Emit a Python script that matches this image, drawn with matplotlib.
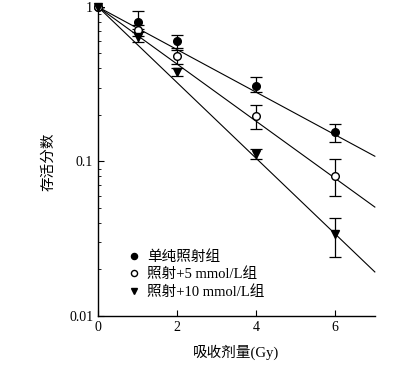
import matplotlib.pyplot as plt
import numpy as np

plt.rcParams['font.family'] = ['Liberation Serif', 'Noto Sans CJK SC']
plt.rcParams['axes.unicode_minus'] = False

dose = [0, 1, 2, 4, 6]

# survival fraction
sf_ctrl = [1.0, 0.80, 0.60, 0.31, 0.156]
sf_5 = [1.0, 0.71, 0.48, 0.198, 0.081]
sf_10 = [1.0, 0.64, 0.38, 0.111, 0.034]

# error bars (lower, upper)
lo_ctrl = [0, 0.08, 0.06, 0.03, 0.022]
hi_ctrl = [0, 0.14, 0.06, 0.043, 0.020]
lo_5 = [0, 0.06, 0.05, 0.035, 0.021]
hi_5 = [0, 0.06, 0.05, 0.035, 0.022]
lo_10 = [0, 0.05, 0.02, 0.008, 0.010]
hi_10 = [0, 0.05, 0.02, 0.010, 0.009]

# fitted log10 slopes per Gy
fit_slopes = [-0.138, -0.185, -0.245]

labels = ['单纯照射组', '照射+5 mmol/L组', '照射+10 mmol/L组']

fig = plt.figure(figsize=(4.07, 3.67), dpi=100)
ax = fig.add_axes([0.241, 0.139, 0.68, 0.842])

xx = np.linspace(0, 7, 50)
for s in fit_slopes:
    ax.plot(xx, 10 ** (s * xx), color='k', lw=0.8, clip_on=False)

eb_kw = dict(color='k', ms=5.5, capsize=4, elinewidth=0.9, capthick=0.9)
e1 = ax.errorbar(dose, sf_ctrl, yerr=[lo_ctrl, hi_ctrl], fmt='o', label=labels[0], **eb_kw)
e2 = ax.errorbar(dose, sf_5, yerr=[lo_5, hi_5], fmt='o', mfc='white', label=labels[1], **eb_kw)
e3 = ax.errorbar(dose, sf_10, yerr=[lo_10, hi_10], fmt='v', label=labels[2], **eb_kw)
for e in (e1, e2, e3):
    e[0].set_clip_on(False)

ax.set_yscale('log')
ax.set_xlim(0, 7)
ax.set_ylim(0.01, 1)
ax.set_xticks([0, 2, 4, 6])
ax.set_yticks([0.01, 0.1, 1])
ax.set_yticklabels(['0.01', '0.1', '1'])
ax.tick_params(direction='in', labelsize=10, length=4, width=0.8)
ax.tick_params(which='minor', direction='in', length=2.5, width=0.6)
for sp in ['top', 'right']:
    ax.spines[sp].set_visible(False)
for sp in ['left', 'bottom']:
    ax.spines[sp].set_linewidth(1.0)

ax.set_xlabel('吸收剂量(Gy)', fontsize=10.5, labelpad=8)
ax.set_ylabel('存活分数', fontsize=10.5, labelpad=10)

handles, labs = ax.get_legend_handles_labels()
handles = [h[0] for h in handles]
ax.legend(handles, labs, loc='lower left', bbox_to_anchor=(0.052, 0.013),
          frameon=False, fontsize=10.5, handletextpad=0.3, handlelength=1.2,
          labelspacing=0.25, markerscale=0.8)

fig.savefig('out.png', dpi=100)
